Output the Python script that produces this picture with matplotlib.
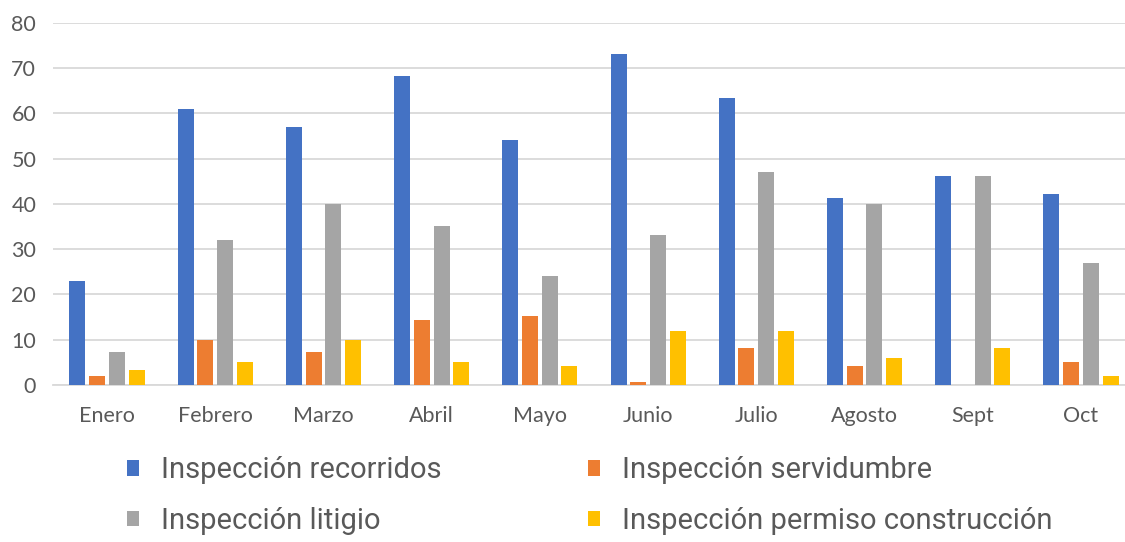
import numpy as np
import matplotlib.pyplot as plt

# Datos del grafico
meses = ["Enero", "Febrero", "Marzo", "Abril", "Mayo", "Junio", "Julio", "Agosto", "Sept", "Oct"]
recorridos = [23, 61, 57, 68.2, 54, 73, 63.3, 41.2, 46.1, 42.2]
servidumbre = [2, 10, 7.2, 14.3, 15.1, 0.6, 8.1, 4.1, 0, 5]
litigio = [7.2, 32, 40, 35, 24, 33.2, 47, 40, 46.1, 27]
permiso = [3.2, 5, 10, 5, 4.1, 12, 12, 5.9, 8.1, 1.9]

series = [recorridos, servidumbre, litigio, permiso]
nombres = ["Inspección recorridos", "Inspección servidumbre",
           "Inspección litigio", "Inspección permiso construcción"]
colores = ["#4472C4", "#ED7D31", "#A5A5A5", "#FFC000"]

fig = plt.figure(figsize=(11.25, 5.42), dpi=100)
ax = fig.add_axes([0.047, 0.29, 0.962, 0.668])

x = np.arange(len(meses))
paso = 0.182
ancho = 0.148
barras = []
for i, (s, c) in enumerate(zip(series, colores)):
    b = ax.bar(x + (i - 1.5) * paso, s, width=ancho, color=c, zorder=3)
    barras.append(b)

ax.set_xlim(-0.5, 9.5)
ax.set_ylim(0, 80)
ax.set_yticks(range(0, 81, 10))
ax.yaxis.grid(True, color="#D9D9D9", linewidth=1.3, zorder=0)
ax.set_xticks(x)
ax.set_xticklabels(meses)
for sp in ["top", "right", "left"]:
    ax.spines[sp].set_visible(False)
ax.spines["bottom"].set_color("#D9D9D9")
ax.spines["bottom"].set_linewidth(1.3)
ax.tick_params(axis="both", length=0, colors="#595959", labelsize=15.5)
ax.tick_params(axis="x", pad=15)
ax.tick_params(axis="y", pad=12)
for t in ax.get_xticklabels() + ax.get_yticklabels():
    t.set_family(["Lato", "DejaVu Sans"])

# Leyenda: columnas (recorridos, litigio) y (servidumbre, permiso)
orden = [0, 2, 1, 3]
leg = fig.legend([barras[i] for i in orden], [nombres[i] for i in orden],
                 loc="upper left", bbox_to_anchor=(0.113, 0.158), ncol=2,
                 frameon=False, handlelength=0.42, handleheight=0.42,
                 handletextpad=0.75, columnspacing=5.0, labelspacing=0.78,
                 prop={"family": ["Roboto", "DejaVu Sans"], "size": 21},
                 borderaxespad=0, borderpad=0)
for t in leg.get_texts():
    t.set_color("#595959")

fig.savefig("out.png", dpi=100)
